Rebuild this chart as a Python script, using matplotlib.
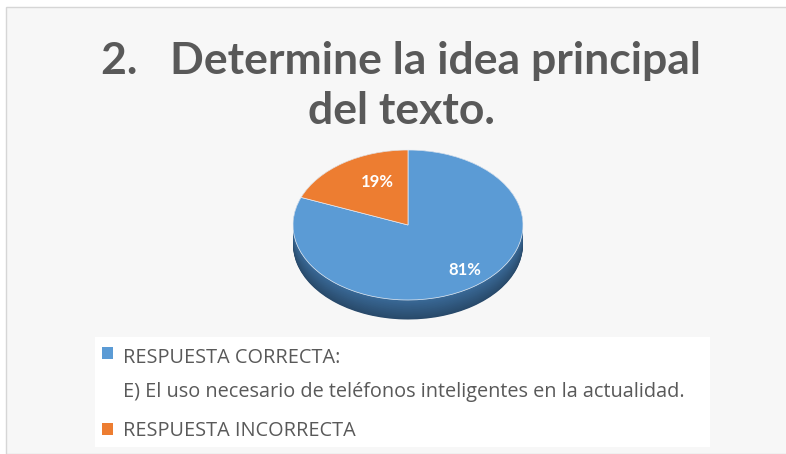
import matplotlib
matplotlib.use("Agg")
import matplotlib.pyplot as plt
from matplotlib.patches import Rectangle
from matplotlib.legend_handler import HandlerPatch
import numpy as np

TITLE = "2.   Determine la idea principal\ndel texto."
CATEGORIES = ["RESPUESTA CORRECTA:\nE) El uso necesario de teléfonos inteligentes en la actualidad.",
              "RESPUESTA INCORRECTA"]
VALUES = [81, 19]
TOP_COLORS = ["#5B9BD5", "#ED7D31"]
SIDE_COLORS = ["#3A6A98", "#B35A20"]

W, H = 786, 454
fig = plt.figure(figsize=(W / 100, H / 100), dpi=100, facecolor="white")
plt.rcParams["font.family"] = ["Lato", "DejaVu Sans"]

# background panel
fig.patches.append(Rectangle((6 / W, 0), 1.0, (H - 7) / H, transform=fig.transFigure,
                             facecolor="#f7f7f7", edgecolor="#d6d6d6", linewidth=1.0, zorder=-2))

fig.text(401 / W, 1 - 86 / H, TITLE, ha="center", va="center", fontsize=32,
         fontweight="bold", color="#595959", linespacing=1.3, zorder=3)

# pie axes: 115 px per x unit, 75 px per y unit, centre at (408, 225)
cx, cy = 408, 225
rx, ry = 115, 75
xl, xr = -1.15, 1.15
yb, yt = -1.6, 1.15
ax = fig.add_axes([(cx + xl * rx) / W, (H - cy + yb * ry) / H,
                   (xr - xl) * rx / W, (yt - yb) * ry / H], zorder=2)
ax.patch.set_alpha(0)

depth = 0.26
nlayers = 30
for i, off in enumerate(np.linspace(depth, 0.0, nlayers)):
    shade = 0.7 + 0.3 * i / (nlayers - 1)
    cols = [tuple(min(1, c * shade) for c in matplotlib.colors.to_rgb(sc)) for sc in SIDE_COLORS]
    ax.pie(VALUES, colors=cols, startangle=90 - VALUES[0] / 100 * 360, counterclock=True,
           center=(0, -off), radius=1.0, frame=False, normalize=True,
           wedgeprops=dict(linewidth=0))

wedges, texts, autotexts = ax.pie(VALUES, colors=TOP_COLORS,
                                  startangle=90 - VALUES[0] / 100 * 360, counterclock=True,
                                  radius=1.0, autopct="%1.0f%%", pctdistance=0.7,
                                  frame=False, normalize=True,
                                  textprops=dict(color="white", fontsize=12, fontweight="bold"),
                                  wedgeprops=dict(linewidth=0.5, edgecolor="#e8eef6"))
ax.set_aspect("auto")
ax.set_xlim(xl, xr)
ax.set_ylim(yb, yt)
ax.axis("off")
dists = [0.78, 0.63]
shifts = [5.4, -9]
for w, t, d, s in zip(wedges, autotexts, dists, shifts):
    ang = np.deg2rad((w.theta1 + w.theta2) / 2 + s)
    t.set_position((d * np.cos(ang), d * np.sin(ang)))

# legend
fig.patches.append(Rectangle((95 / W, 1 - 447 / H), 615 / W, 110 / H, transform=fig.transFigure,
                             facecolor="white", edgecolor="none", zorder=-1))

FS = 14.3
LS = 1.95


def top_square(legend, orig_handle, xdescent, ydescent, width, height, fontsize):
    n_lines = 1
    for w, lab in zip(wedges, CATEGORIES):
        if w is orig_handle:
            n_lines = lab.count("\n") + 1
    lift = (n_lines - 1) * LS * FS * 0.5 * 1.17
    return Rectangle((-xdescent, -ydescent + lift), width, height)


leg = fig.legend(wedges, CATEGORIES, loc="upper left", bbox_to_anchor=(102 / W, 1 - 348 / H),
                 frameon=False, labelcolor="#595959", handlelength=0.55,
                 handleheight=0.55, handletextpad=0.5, labelspacing=0.95,
                 borderaxespad=0, borderpad=0,
                 prop=dict(family=["Open Sans", "DejaVu Sans"], size=FS),
                 handler_map={w: HandlerPatch(patch_func=top_square) for w in wedges})
for h in leg.legend_handles:
    h.set_edgecolor("none")
for t in leg.get_texts():
    t.set_linespacing(LS)

fig.savefig("out.png", dpi=100, facecolor=fig.get_facecolor())
